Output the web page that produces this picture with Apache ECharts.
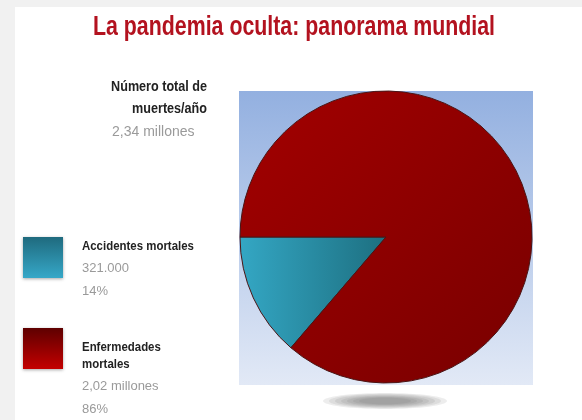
<!DOCTYPE html>
<html><head><meta charset="utf-8">
<script src="https://cdn.jsdelivr.net/npm/echarts@6/dist/echarts.min.js"></script>
<style>html,body{margin:0;padding:0;background:#f1f1f1}#c{width:582px;height:420px}</style>
</head><body><div id="c"></div>
<script>
var titleText = 'La pandemia oculta: panorama mundial';
var totalLines = ['Número total de', 'muertes/año'];
var totalValue = '2,34 millones';
var categories = ['Accidentes mortales', 'Enfermedades mortales'];
var categoryLines = [['Accidentes mortales'], ['Enfermedades', 'mortales']];
var values = [321000, 2020000];
var valueLabels = ['321.000', '2,02 millones'];
var percentLabels = ['14%', '86%'];

var FAM = '"Liberation Sans", Arial, sans-serif';
var ctx = document.createElement('canvas').getContext('2d');
function measure(t, font) { ctx.font = font; return ctx.measureText(t).width; }

// text element squeezed horizontally to look condensed
function ctext(t, x, y, font, fill, align, sx) {
  return {type:'text', x:x, y:y, originX:0, originY:0, scaleX:sx,
    style:{text:t, font:font, fill:fill, textAlign:align || 'left', textVerticalAlign:'top'}};
}

var chart = echarts.init(document.getElementById('c'));

var boldF = 'bold 13px ' + FAM, normF = '13px ' + FAM;
var legendTexts = [];
var tops = [240, 341];
categoryLines.forEach(function (lines, i) {
  var y = tops[i];
  lines.forEach(function (l, j) {
    if (j > 0) y += 17;
    legendTexts.push(ctext(l, 82, y, boldF, '#222', 'left', 0.88));
  });
  y += 22;
  legendTexts.push(ctext(valueLabels[i], 82, y, normF, '#9a9a9a', 'left', 1));
  y += 23;
  legendTexts.push(ctext(percentLabels[i], 82, y, normF, '#9a9a9a', 'left', 1));
});

var titleFont = 'bold 28px ' + FAM;
var titleScale = 402 / measure(titleText, titleFont);

var shadowRings = [];
for (var k = 0; k < 7; k++) {
  shadowRings.push({type:'ellipse', z:-5, shape:{cx:385, cy:401, rx:62 - k * 6, ry:8 - k * 0.8},
    style:{fill:'rgba(95,95,95,0.11)'}});
}

var topBold = 'bold 14px ' + FAM;
var graphics = [
  {type:'rect', z:-10, shape:{x:15, y:7, width:567, height:413}, style:{fill:'#ffffff'}},
  {type:'rect', z:-5, shape:{x:239, y:91, width:294, height:294},
    style:{fill:new echarts.graphic.LinearGradient(0,0,0,1,[{offset:0,color:'#93b0e0'},{offset:1,color:'#e2e9f6'}])}},
  ctext(titleText, 294, 13, titleFont, '#b3121f', 'center', titleScale),
  ctext(totalLines[0], 207, 80, topBold, '#222', 'right', 0.9),
  ctext(totalLines[1], 207, 102, topBold, '#222', 'right', 0.9),
  ctext(totalValue, 112, 125, '14px ' + FAM, '#9a9a9a', 'left', 1)
].concat(shadowRings, legendTexts);

chart.setOption({
  animation:false,
  graphic: graphics,
  legend: {
    orient:'vertical', left:23, top:237, padding:0, itemWidth:40, itemHeight:41, itemGap:50,
    icon:'rect', formatter:function(){return '';}, selectedMode:false,
    data:[
      {name:categories[0], itemStyle:{borderWidth:0, color:new echarts.graphic.LinearGradient(0,0,0,1,[{offset:0,color:'#1f6a7e'},{offset:1,color:'#36a8c8'}]), shadowBlur:3, shadowColor:'rgba(0,0,0,0.35)', shadowOffsetY:1}},
      {name:categories[1], itemStyle:{borderWidth:0, color:new echarts.graphic.LinearGradient(0,0,0,1,[{offset:0,color:'#5e0000'},{offset:1,color:'#c40000'}]), shadowBlur:3, shadowColor:'rgba(0,0,0,0.35)', shadowOffsetY:1}}
    ]
  },
  series:[{
    type:'pie', center:[386,237], radius:146, startAngle:180, clockwise:false,
    label:{show:false}, labelLine:{show:false}, emphasis:{disabled:true},
    itemStyle:{borderColor:'#4a1515', borderWidth:1},
    data:[
      {name:categories[0], value:values[0], itemStyle:{color:new echarts.graphic.LinearGradient(0,0,1,0,[{offset:0,color:'#34a7c4'},{offset:1,color:'#1d6f80'}])}},
      {name:categories[1], value:values[1], itemStyle:{color:new echarts.graphic.LinearGradient(0,0,1,1,[{offset:0,color:'#a30000'},{offset:1,color:'#780000'}])}}
    ]
  }]
});
</script></body></html>
